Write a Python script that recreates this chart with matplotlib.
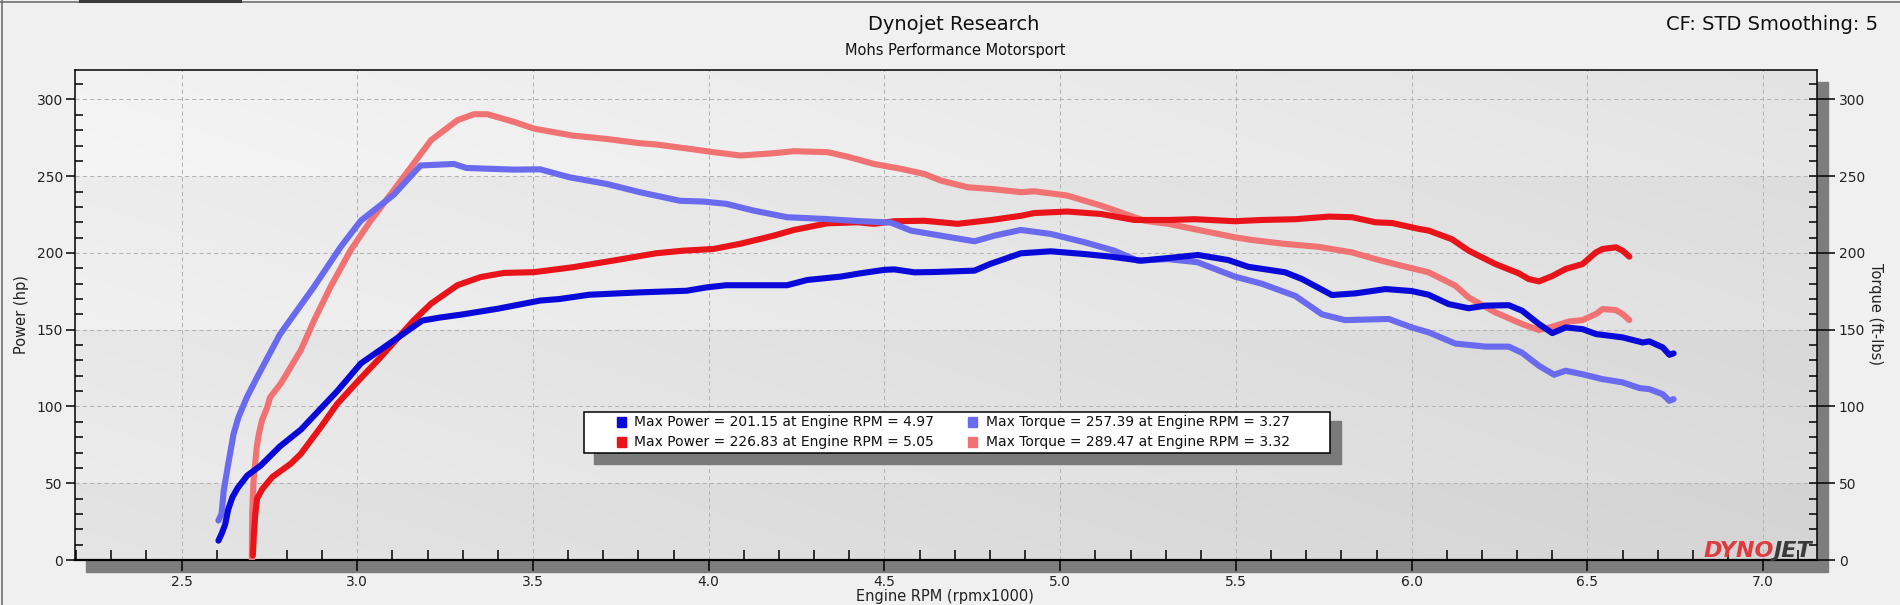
import numpy as np
import matplotlib
matplotlib.use("Agg")
import matplotlib.pyplot as plt
from matplotlib.ticker import MultipleLocator, FormatStrFormatter
from matplotlib.patches import Rectangle
from matplotlib.lines import Line2D

# run 1 (blue) power / torque
rpm_pwr_1 = [2.605, 2.614, 2.624, 2.633, 2.645, 2.66, 2.687, 2.725, 2.78, 2.84, 2.877, 2.943, 3.01,
             3.104, 3.185, 3.237, 3.30, 3.40, 3.52, 3.575, 3.66, 3.80, 3.937, 3.994, 4.05, 4.223,
             4.28, 4.375, 4.43, 4.499, 4.528, 4.585, 4.642, 4.756, 4.80, 4.888, 4.973, 5.069, 5.145,
             5.23, 5.307, 5.392, 5.478, 5.535, 5.64, 5.688, 5.773, 5.84, 5.926, 6.0, 6.048, 6.105,
             6.162, 6.21, 6.276, 6.314, 6.362, 6.40, 6.438, 6.486, 6.524, 6.60, 6.657, 6.676, 6.714,
             6.733, 6.745]
pwr_1 = [12.6, 17, 23, 33, 41, 47, 55, 61.5, 74, 85, 94, 110, 128,
         143, 156, 158, 160, 163.7, 169, 170, 172.8, 174.3, 175.4, 177.6, 179, 179,
         182.4, 184.6, 186.7, 189, 189.3, 187.4, 187.6, 188.5, 192.8, 199.8, 201.1, 199.3, 197.6,
         195, 196.7, 198.7, 195.4, 191, 187.4, 183, 172.6, 173.7, 176.5, 175.2, 172.8, 166.7,
         164, 165.7, 166, 162.4, 153.7, 147.8, 151.5, 150.4, 147.2, 145, 141.7, 142.4, 138.5,
         133.7, 134.6]

rpm_trq_1 = [2.605, 2.614, 2.62, 2.633, 2.648, 2.662, 2.686, 2.715, 2.78, 2.877, 2.953, 3.01, 3.104,
             3.18, 3.275, 3.31, 3.446, 3.52, 3.604, 3.709, 3.804, 3.918, 3.985, 4.05, 4.128, 4.223,
             4.328, 4.432, 4.518, 4.575, 4.66, 4.756, 4.813, 4.888, 4.973, 5.069, 5.154, 5.22, 5.307,
             5.39, 5.497, 5.573, 5.669, 5.745, 5.81, 5.935, 6.0, 6.048, 6.124, 6.21, 6.276, 6.314,
             6.362, 6.405, 6.438, 6.486, 6.543, 6.60, 6.648, 6.676, 6.714, 6.733, 6.745]
trq_1 = [25.7, 30, 45, 62.6, 82, 93, 106, 119, 147, 178, 204, 221, 238,
         257, 258, 255.4, 254.3, 254.5, 249.3, 245, 239.6, 234, 233.5, 232, 227.6, 223.3,
         222.2, 220.7, 219.8, 214.6, 211.3, 207.6, 211.3, 215, 212.4, 207, 201.5, 195, 196,
         194, 184.6, 180, 172, 160, 156.3, 157, 151.5, 148.3, 141, 139, 139, 135,
         126.5, 120.7, 123.3, 121, 117.8, 115.7, 112, 111.3, 108, 103.7, 104.8]

# run 2 (red) power / torque
rpm_pwr_2 = [2.703, 2.706, 2.71, 2.715, 2.73, 2.758, 2.81, 2.839, 2.896, 2.943, 3.0, 3.066, 3.16,
             3.21, 3.285, 3.351, 3.417, 3.503, 3.613, 3.727, 3.85, 3.927, 4.013, 4.09, 4.185, 4.242,
             4.337, 4.423, 4.47, 4.528, 4.613, 4.708, 4.804, 4.89, 4.926, 5.02, 5.116, 5.211, 5.307,
             5.383, 5.497, 5.573, 5.669, 5.764, 5.83, 5.897, 5.945, 6.02, 6.048, 6.114, 6.162, 6.238,
             6.305, 6.333, 6.362, 6.40, 6.438, 6.486, 6.524, 6.543, 6.581, 6.60, 6.619]
pwr_2 = [3, 17, 30, 40, 46.3, 54, 62.6, 69, 86.5, 101.7, 116, 132, 156,
         167, 179, 184.3, 187, 187.5, 190.7, 195, 199.8, 201.5, 202.6, 206, 211.3, 215,
         219.3, 220, 219, 220.7, 221, 219, 221.5, 224.3, 226, 227, 225.4, 221.5, 221.5,
         222, 220.7, 221.5, 222, 223.7, 223.3, 220, 219.5, 215.7, 214.6, 209, 201.5, 192.8,
         186.7, 183, 181.5, 185, 189.6, 192.8, 200.4, 202.6, 203.7, 201.5, 197.6]

rpm_trq_2 = [2.700, 2.701, 2.705, 2.714, 2.72, 2.729, 2.744, 2.752, 2.782, 2.839, 2.877, 2.924, 2.981,
             3.038, 3.104, 3.21, 3.285, 3.332, 3.37, 3.446, 3.503, 3.613, 3.709, 3.804, 3.85, 3.947,
             4.013, 4.09, 4.185, 4.242, 4.337, 4.394, 4.47, 4.547, 4.613, 4.66, 4.737, 4.804, 4.89,
             4.926, 5.02, 5.116, 5.24, 5.307, 5.402, 5.497, 5.545, 5.64, 5.735, 5.83, 5.897, 5.971,
             6.048, 6.124, 6.162, 6.238, 6.314, 6.362, 6.40, 6.448, 6.486, 6.524, 6.543, 6.581, 6.60,
             6.619]
trq_2 = [0, 30, 51.7, 73.5, 82, 91, 99.6, 106, 114.8, 136.5, 156, 178, 201.7,
         221, 241, 273.5, 286.5, 290.4, 290.4, 285.4, 281, 276.5, 274.3, 271.5, 270.7, 267.8,
         265.7, 263.5, 265, 266.3, 265.7, 262.8, 258, 254.8, 251.5, 247.2, 242.8, 241.7, 239.6,
         240.2, 237.4, 230.9, 221, 219, 214.6, 210.2, 208.5, 205.9, 204, 200.4, 196, 191.7,
         187.4, 178.7, 171, 161.3, 153.7, 149.8, 152, 155.4, 156.3, 160.2, 163.5, 162.8, 160.2,
         156.3]

max_power = [201.15, 226.83]
max_power_rpm = [4.97, 5.05]
max_torque = [257.39, 289.47]
max_torque_rpm = [3.27, 3.32]

c_pwr_1, c_trq_1 = "#0a0ad8", "#6a6aee"
c_pwr_2, c_trq_2 = "#e8141a", "#f07272"

W, H = 1900, 605
def fx(x):
    return x / W
def fy(y):
    return 1 - y / H

fig = plt.figure(figsize=(19, 6.05), dpi=100, facecolor="#f0f0f0")

# drop shadow behind the plot area
fig.patches.append(Rectangle((fx(86), fy(572)), (1828 - 86) / W, (572 - 82) / H,
                             transform=fig.transFigure, color="#7d7d7d", zorder=-5))
# window border
fig.add_artist(Line2D([0, 1], [fy(1.5), fy(1.5)], color="#707070", lw=1.2))
fig.add_artist(Line2D([fx(1.5), fx(1.5)], [0, 1], color="#707070", lw=1.2))
fig.add_artist(Line2D([fx(80), fx(240)], [fy(1), fy(1)], color="#3a3a3a", lw=2.2))

L, R, T, B = 75, 1817, 70, 560
ax = fig.add_axes([fx(L), fy(B), (R - L) / W, (B - T) / H])
ax.set_zorder(1)
xlim = (2.197, 7.153)
ylim = (0, 319.2)
ax.set_xlim(*xlim)
ax.set_ylim(*ylim)

# background shading of the plot area
ny, nx = 400, 300
yy = np.linspace(ylim[0], ylim[1], ny)[:, None]
xx = np.linspace(0, 1, nx)[None, :]
t = ((250 - yy) % 100) / 100.0
shade = 0.975 - 0.06 * xx - 0.06 * (1 - yy / ylim[1]) - 0.035 * (1 - t)
img = np.dstack([shade, shade, shade])
ax.imshow(img, extent=[xlim[0], xlim[1], ylim[0], ylim[1]], origin="lower",
          aspect="auto", zorder=0, interpolation="bilinear")

ax.grid(True, which="major", color="#b4b4b4", lw=0.75, linestyle=(0, (4, 3)), zorder=1)
ax.set_axisbelow(True)

lw = 4.4
ax.plot(rpm_trq_2, trq_2, color=c_trq_2, lw=lw, solid_capstyle="round", zorder=3)
ax.plot(rpm_pwr_2, pwr_2, color=c_pwr_2, lw=lw, solid_capstyle="round", zorder=3)
ax.plot(rpm_trq_1, trq_1, color=c_trq_1, lw=lw, solid_capstyle="round", zorder=4)
ax.plot(rpm_pwr_1, pwr_1, color=c_pwr_1, lw=lw, solid_capstyle="round", zorder=4)

ax.xaxis.set_major_locator(MultipleLocator(0.5))
ax.xaxis.set_minor_locator(MultipleLocator(0.1))
ax.xaxis.set_major_formatter(FormatStrFormatter("%.1f"))
ax.yaxis.set_major_locator(MultipleLocator(50))
ax.yaxis.set_minor_locator(MultipleLocator(10))
ax.tick_params(axis="x", which="major", direction="out", length=7.9, width=1.1,
               pad=2.6, labelsize=10, labelcolor="#222222")
ax.tick_params(axis="x", which="minor", direction="in", length=7.2, width=1.1)
ax.tick_params(axis="y", which="major", direction="out", length=6.5, width=1.1,
               pad=2.2, labelsize=10, labelcolor="#222222")
ax.tick_params(axis="y", which="minor", direction="in", length=5.8, width=1.1)
for s in ax.spines.values():
    s.set_color("black")
    s.set_linewidth(1.1)
ax.spines["bottom"].set_linewidth(1.6)

ax2 = ax.twinx()
ax2.set_zorder(2)
ax2.set_ylim(*ylim)
ax2.yaxis.set_major_locator(MultipleLocator(50))
ax2.yaxis.set_minor_locator(MultipleLocator(10))
ax2.yaxis.remove_overlapping_locs = False
ax2.tick_params(axis="y", which="major", direction="out", length=13, width=1.1,
                pad=2.6, labelsize=10, labelcolor="#222222")
ax2.tick_params(axis="y", which="minor", direction="in", length=5.8, width=1.1)
for s in ax2.spines.values():
    s.set_visible(False)

# titles and axis labels
fig.text(fx(954), fy(25), "Dynojet Research", ha="center", va="center", fontsize=14, color="#111111")
fig.text(fx(955), fy(50), "Mohs Performance Motorsport", ha="center", va="center", fontsize=10.5,
         color="#111111")
fig.text(fx(1878), fy(25), "CF: STD Smoothing: 5", ha="right", va="center", fontsize=14, color="#111111")
fig.text(fx(22), fy(315), "Power (hp)", rotation=90, ha="center", va="center", fontsize=10.5,
         color="#222222")
fig.text(fx(1876), fy(314), "Torque (ft-lbs)", rotation=270, ha="center", va="center", fontsize=10.5,
         color="#222222")
fig.text(fx(945), fy(604), "Engine RPM (rpmx1000)", ha="center", va="bottom", fontsize=10.5,
         color="#222222")

# legend box with shadow
fig.patches.append(Rectangle((fx(594), fy(464)), (1341 - 594) / W, (464 - 421) / H,
                             transform=fig.transFigure, color="#7a7a7a", zorder=5))
fig.patches.append(Rectangle((fx(584), fy(453)), (1330 - 584) / W, (453 - 412) / H,
                             transform=fig.transFigure, facecolor="white", edgecolor="black",
                             lw=1.1, zorder=6))
rows_y = [421.7, 442.3]
entries = [
    (617, 634, rows_y[0], c_pwr_1, f"Max Power = {max_power[0]:.2f} at Engine RPM = {max_power_rpm[0]:.2f}"),
    (617, 634, rows_y[1], c_pwr_2, f"Max Power = {max_power[1]:.2f} at Engine RPM = {max_power_rpm[1]:.2f}"),
    (968, 986, rows_y[0], c_trq_1, f"Max Torque = {max_torque[0]:.2f} at Engine RPM = {max_torque_rpm[0]:.2f}"),
    (968, 986, rows_y[1], c_trq_2, f"Max Torque = {max_torque[1]:.2f} at Engine RPM = {max_torque_rpm[1]:.2f}"),
]
for mx, tx, ty, col, label in entries:
    fig.patches.append(Rectangle((fx(mx), fy(ty + 5)), 9 / W, 10 / H, transform=fig.transFigure,
                                 color=col, zorder=7))
    fig.text(fx(tx), fy(ty), label, ha="left", va="center", fontsize=10, color="#111111", zorder=8)

# DYNOJET logo
fig.canvas.draw()
jet = fig.text(fx(1812), fy(557), "JET", ha="right", va="baseline", fontsize=16,
               fontweight="heavy", style="italic", color="#3a3a3a", zorder=9)
bb = jet.get_window_extent(renderer=fig.canvas.get_renderer())
fig.text(bb.x0 / fig.bbox.width + 0.0005, fy(557), "DYNO", ha="right", va="baseline", fontsize=16,
         fontweight="heavy", style="italic", color="#e0393e", zorder=9)

fig.savefig("out.png", dpi=100, facecolor=fig.get_facecolor())
